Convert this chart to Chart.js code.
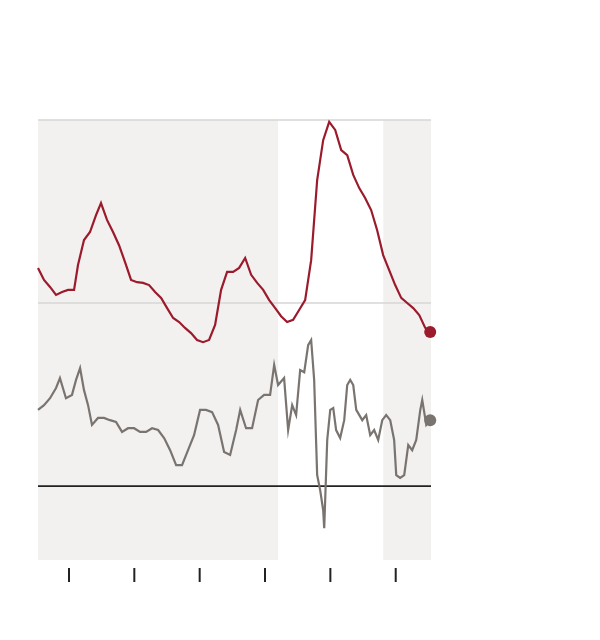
<!DOCTYPE html><html><head><script src="https://cdn.jsdelivr.net/npm/chart.js@4"></script>
<style>body{margin:0;background:#fff}#w{width:600px;height:640px}</style></head><body><div id="w"><canvas id="c"></canvas></div>
<script>
const redYears=[1992.63,1993.09,1993.55,1994.01,1994.47,1994.93,1995.39,1995.69,1996.15,1996.61,1997.07,1997.45,1997.91,1998.37,1998.83,1999.29,1999.75,2000.21,2000.67,2001.13,2001.59,2002.05,2002.51,2002.97,2003.43,2003.88,2004.34,2004.80,2005.26,2005.72,2006.18,2006.64,2007.10,2007.56,2008.02,2008.48,2008.94,2009.40,2009.86,2010.32,2010.78,2011.23,2011.69,2012.15,2012.61,2013.07,2013.53,2013.99,2014.45,2014.91,2015.37,2015.83,2016.29,2016.75,2017.21,2017.66,2018.12,2018.58,2019.04,2019.50,2019.96,2020.42,2020.88,2021.34,2021.80,2022.26,2022.64];
const redValues=[5.96,5.63,5.44,5.22,5.30,5.36,5.36,6.04,6.72,6.94,7.40,7.73,7.27,6.94,6.58,6.12,5.63,5.57,5.55,5.49,5.30,5.14,4.86,4.59,4.48,4.32,4.18,3.99,3.93,3.99,4.40,5.36,5.85,5.85,5.96,6.23,5.77,5.55,5.36,5.08,4.86,4.64,4.48,4.54,4.81,5.08,6.17,8.36,9.45,9.95,9.73,9.18,9.04,8.50,8.14,7.87,7.54,6.99,6.31,5.90,5.49,5.14,5.00,4.86,4.67,4.32,4.21];
const greyYears=[1992.63,1993.09,1993.55,1994.01,1994.31,1994.77,1995.23,1995.54,1995.85,1996.15,1996.46,1996.76,1997.22,1997.68,1998.14,1998.60,1999.06,1999.52,1999.98,2000.44,2000.90,2001.36,2001.82,2002.28,2002.74,2003.20,2003.65,2004.11,2004.57,2005.03,2005.49,2005.95,2006.41,2006.87,2007.33,2007.79,2008.10,2008.55,2009.01,2009.47,2009.93,2010.39,2010.70,2011.00,2011.46,2011.77,2012.08,2012.38,2012.69,2013.00,2013.30,2013.53,2013.76,2013.99,2014.22,2014.45,2014.53,2014.76,2014.99,2015.22,2015.44,2015.75,2016.06,2016.29,2016.52,2016.75,2016.98,2017.44,2017.74,2018.05,2018.35,2018.66,2018.97,2019.27,2019.58,2019.88,2020.04,2020.34,2020.65,2020.96,2021.26,2021.57,2021.88,2022.03,2022.34,2022.64];
const greyValues=[2.08,2.21,2.40,2.68,2.95,2.40,2.49,2.90,3.22,2.62,2.21,1.67,1.86,1.86,1.80,1.75,1.48,1.58,1.58,1.48,1.48,1.58,1.53,1.31,0.98,0.57,0.57,0.98,1.39,2.08,2.08,2.02,1.67,0.93,0.85,1.53,2.08,1.58,1.58,2.35,2.49,2.49,3.31,2.76,2.95,1.53,2.21,1.94,3.17,3.11,3.85,3.99,2.90,0.30,-0.11,-0.66,-1.15,1.26,2.08,2.13,1.53,1.31,1.80,2.76,2.90,2.76,2.08,1.80,1.94,1.39,1.53,1.26,1.80,1.94,1.80,1.26,0.30,0.22,0.30,1.12,0.98,1.26,2.08,2.35,1.67,1.80];
const tickYears=[1995,2000,2005,2010,2015,2020];
const shadedRanges=[[1992.63,2011.0],[2019.05,2022.7]];
const gridValues=[10,5];
const pts=(xs,ys)=>xs.map((x,i)=>({x,y:ys[i]}));
const bg={id:'bg',beforeDatasetsDraw(ch){const{ctx,chartArea:a,scales:{x,y}}=ch;ctx.save();ctx.fillStyle='#f2f1f0';
shadedRanges.forEach(r=>{const l=x.getPixelForValue(r[0]),R=x.getPixelForValue(r[1]);ctx.fillRect(l,a.top,R-l,a.bottom-a.top);});
ctx.strokeStyle='#d6d6d6';ctx.lineWidth=1.5;gridValues.forEach(v=>{const p=y.getPixelForValue(v);ctx.beginPath();ctx.moveTo(a.left,p);ctx.lineTo(a.right,p);ctx.stroke();});
ctx.strokeStyle='#222';ctx.lineWidth=1.8;const z=y.getPixelForValue(0);ctx.beginPath();ctx.moveTo(a.left,z);ctx.lineTo(a.right,z);ctx.stroke();
ctx.lineWidth=2;tickYears.forEach(t=>{const p=x.getPixelForValue(t);ctx.beginPath();ctx.moveTo(p,a.bottom+8);ctx.lineTo(p,a.bottom+22);ctx.stroke();});
ctx.restore();}};
const last=(a)=>a.length-1;
new Chart(document.getElementById('c'),{type:'line',data:{datasets:[
{data:pts(redYears,redValues),clip:false,borderColor:'#9b1b2c',borderWidth:2.2,tension:0,pointRadius:redYears.map((_,i)=>i===last(redYears)?6:0),pointBackgroundColor:'#9b1b2c',pointBorderWidth:0},
{data:pts(greyYears,greyValues),clip:false,borderColor:'#7a7470',borderWidth:2.2,tension:0,pointRadius:greyYears.map((_,i)=>i===last(greyYears)?6:0),pointBackgroundColor:'#7a7470',pointBorderWidth:0}]},
options:{responsive:true,maintainAspectRatio:false,animation:false,layout:{padding:{left:38,top:120,right:169,bottom:80}},
plugins:{legend:{display:false},tooltip:{enabled:false}},
scales:{x:{type:'linear',min:1992.63,max:2022.7,display:false},y:{min:-2.02,max:10,display:false}}},plugins:[bg]});
</script></body></html>
